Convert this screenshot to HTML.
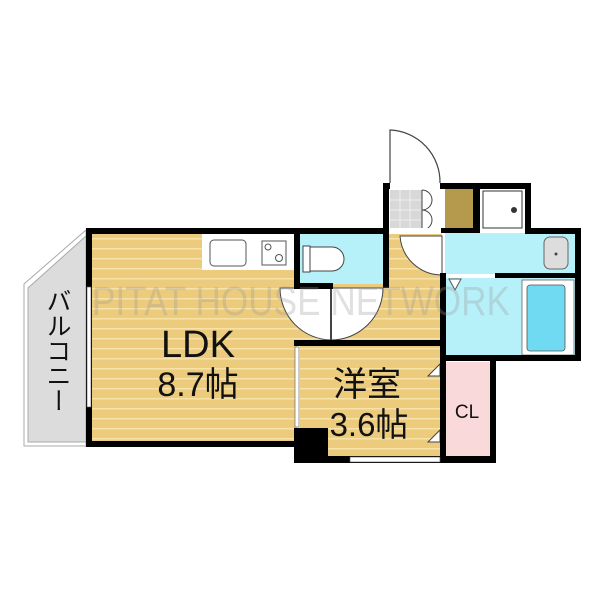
<!DOCTYPE html>
<html><head><meta charset="utf-8"><style>body{margin:0;background:#fff}svg{display:block}</style></head><body>
<svg width="600" height="600" viewBox="0 0 600 600" xmlns="http://www.w3.org/2000/svg" font-family="Liberation Sans, Noto Sans CJK JP, sans-serif">
<defs>
<pattern id="fl" width="10" height="10" patternUnits="userSpaceOnUse">
<rect width="10" height="10" fill="#eccb7c"/><rect y="8" width="10" height="1.5" fill="#f7e3a8"/>
</pattern>
</defs>
<rect width="600" height="600" fill="#fff"/>
<polygon points="86,230 24,284 24,446 86,446" fill="#fff" stroke="#aaa" stroke-width="1"/>
<polygon points="86,236 28,288 28,442 86,442" fill="#dcdcdc" stroke="#aaa" stroke-width="1"/>
<rect x="92" y="234" width="205" height="208" fill="url(#fl)"/>
<rect x="297" y="234" width="145" height="110" fill="url(#fl)"/>
<rect x="300" y="346" width="142" height="110" fill="url(#fl)"/>
<rect x="202" y="234" width="92" height="36" fill="#fff"/>
<rect x="210" y="240" width="36" height="26" rx="4" fill="#fff" stroke="#555"/>
<rect x="262" y="241" width="24" height="24" fill="#fff" stroke="#555"/>
<circle cx="268" cy="247" r="3" fill="none" stroke="#555"/><circle cx="279" cy="258" r="3.5" fill="none" stroke="#555"/>
<rect x="300" y="234" width="85" height="50" fill="#b6f0f8"/>
<path d="M303,246 h7 v26 h-7z M310,247 h22 a12,12 0 0 1 0,24 h-22z" fill="#fff" stroke="#444"/>
<rect x="389" y="189" width="52" height="44" fill="#fff"/>
<rect x="390" y="190" width="32" height="40" fill="#d8d8d8"/>
<path d="M390,200h32M390,210h32M390,220h32M400,190v40M410,190v40" stroke="#eee" stroke-width="1"/>
<path d="M422,190v40 M422,190a10,10 0 0 1 0,20 a10,10 0 0 1 0,20" fill="none" stroke="#444"/>
<rect x="445" y="189" width="28" height="40" fill="#b59a4e"/>
<rect x="480" y="189" width="45" height="44" fill="#fff"/>
<rect x="483" y="191" width="39" height="37" fill="#fff" stroke="#333"/>
<circle cx="514" cy="210" r="3" fill="#333"/>
<rect x="445" y="233" width="130" height="41" fill="#b6f0f8"/>
<rect x="544" y="237" width="24" height="32" rx="6" fill="#ddd" stroke="#666"/>
<circle cx="556" cy="254" r="1.5" fill="#444"/>
<rect x="445" y="278" width="130" height="77" fill="#b6f0f8"/>
<rect x="522" y="280" width="52" height="75" fill="#fff" stroke="#666" stroke-width="0.8"/>
<rect x="527" y="285" width="38" height="66" rx="3" fill="#6fdaf2" stroke="#555" stroke-width="0.8"/>
<path d="M449,279 L461,279 L455,290 Z" fill="#fff" stroke="#555"/>
<rect x="445" y="362" width="45" height="96" fill="#f9d9d9"/>
<path d="M390,183 V130 A52,52 0 0 1 440,183" fill="#fff" stroke="#444" stroke-width="1.2"/>
<path d="M442,236 H400 A42,42 0 0 0 442,275 Z" fill="#fff" stroke="#444"/>
<path d="M280,288 A52,52 0 0 0 331,340 A52,52 0 0 0 383,288 Z" fill="#fff" stroke="#444"/>
<line x1="331" y1="288" x2="331" y2="340" stroke="#444" stroke-width="2"/>
<path d="M440,364 L428,376 L440,376Z M440,430 L428,442 L440,442Z" fill="#fff" stroke="#444"/>
<g fill="#000">
<rect x="86" y="228" width="214" height="6"/>
<rect x="86" y="228" width="6" height="219"/>
<rect x="86" y="441" width="214" height="6"/>
<rect x="294" y="228" width="6" height="60"/>
<rect x="294" y="283" width="39" height="6"/>
<rect x="294" y="228" width="95" height="6"/>
<rect x="383" y="183" width="6" height="105"/>
<rect x="383" y="183" width="7" height="6"/>
<rect x="440" y="183" width="90" height="6"/>
<rect x="473" y="183" width="7" height="50"/>
<rect x="441" y="228" width="39" height="5"/>
<rect x="525" y="183" width="6" height="50"/>
<rect x="525" y="228" width="55" height="6"/>
<rect x="575" y="228" width="6" height="133"/>
<rect x="495" y="273" width="85" height="5"/>
<rect x="440" y="355" width="141" height="6"/>
<rect x="440" y="273" width="6" height="190"/>
<rect x="294" y="340" width="150" height="6"/>
<rect x="490" y="355" width="6" height="108"/>
<rect x="300" y="456" width="196" height="7"/>
<rect x="294" y="428" width="34" height="35"/>
</g>
<rect x="87" y="287" width="4" height="120" fill="#fff" stroke="#555" stroke-width="0.6"/>
<rect x="295" y="347" width="4" height="80" fill="#fff" stroke="#555" stroke-width="0.6"/>
<rect x="350" y="457" width="90" height="5" fill="#fff" stroke="#555" stroke-width="0.6"/>
<rect x="389" y="228" width="52" height="6" fill="#fff"/>
<text x="92" y="315" font-size="41" fill="#999" fill-opacity="0.3" textLength="418" lengthAdjust="spacingAndGlyphs">PITAT HOUSE NETWORK</text>
<text x="198" y="357" text-anchor="middle" font-size="38" fill="#111">LDK</text>
<text x="198" y="396" text-anchor="middle" font-size="34" fill="#111">8.7帖</text>
<text x="367" y="396" text-anchor="middle" font-size="34" fill="#111">洋室</text>
<text x="369" y="436" text-anchor="middle" font-size="33" fill="#111">3.6帖</text>
<text x="467" y="418" text-anchor="middle" font-size="19" fill="#111">CL</text>
<text x="57" y="288" font-size="25" fill="#111" style="writing-mode:vertical-rl">バルコニー</text>
</svg>
</body></html>
